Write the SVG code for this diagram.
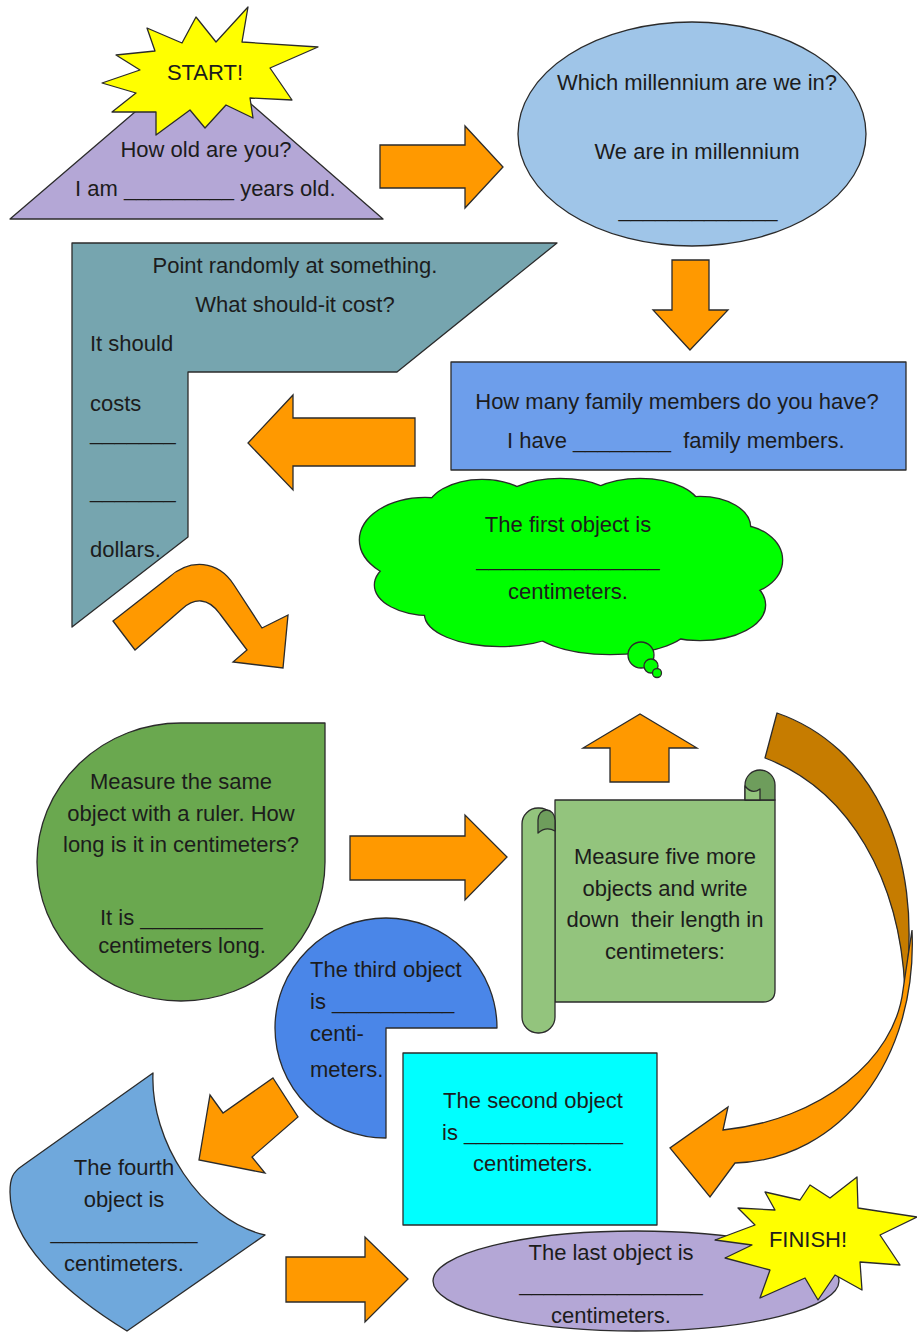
<svg xmlns="http://www.w3.org/2000/svg" width="917" height="1332" viewBox="0 0 917 1332">
<style>
text{font-family:"Liberation Sans",Arial,sans-serif;font-size:22px;fill:#1c1c1c}
.c{text-anchor:middle}
.sh{stroke:#2b2b2b;stroke-width:1.3;stroke-linejoin:round}
.arr{fill:#ff9900;stroke:#2b2b2b;stroke-width:1.3;stroke-linejoin:miter}
.cl{fill:#00ff00}
</style>
<rect width="917" height="1332" fill="#ffffff"/>

<g id="age">
<polygon class="sh" points="10,219 198,58 383,219" fill="#b4a7d6"/>
<text class="c" x="206" y="157">How old are you?</text>
<text x="75" y="196">I am _________ years old.</text>
</g>
<g id="start">
<polygon class="sh" fill="#ffff00" points="248,7 242,42 318,47 270,68 292,100 250,98 253,118 226,105 205,128 190,110 156,135 156,112 112,112 136,93 102,83 140,70 116,55 155,51 147,28 182,43 196,17 216,42"/>
<text class="c" x="205" y="80">START!</text>
</g>

<g id="millennium">
<ellipse class="sh" cx="692" cy="134" rx="174" ry="112" fill="#9fc5e8"/>
<text class="c" x="697" y="90">Which millennium are we in?</text>
<text class="c" x="697" y="159">We are in millennium</text>
<text class="c" x="698" y="217">_____________</text>
</g>

<g id="family">
<rect class="sh" x="451" y="362" width="455" height="108" fill="#6d9eeb"/>
<text class="c" x="677" y="409">How many family members do you have?</text>
<text x="507" y="448">I have ________ &#160;family members.</text>
</g>

<g id="cost">
<polygon class="sh" points="72,243 557,243 397,372 188,372 188,537 72,627" fill="#76a5af"/>
<text class="c" x="295" y="273">Point randomly at something.</text>
<text class="c" x="295" y="312">What should-it cost?</text>
<text x="90" y="351">It should</text>
<text x="90" y="411">costs</text>
<text x="90" y="440">_______</text>
<text x="90" y="498">_______</text>
<text x="90" y="557">dollars.</text>
</g>

<g id="first-object">
<g class="cl" stroke="#2b2b2b" stroke-width="2.6">
<ellipse cx="425" cy="540" rx="65" ry="42"/>
<ellipse cx="482" cy="512" rx="55" ry="32"/>
<ellipse cx="560" cy="506" rx="60" ry="27"/>
<ellipse cx="640" cy="509" rx="60" ry="30"/>
<ellipse cx="700" cy="527" rx="50" ry="30"/>
<ellipse cx="735" cy="560" rx="47" ry="35"/>
<ellipse cx="700" cy="605" rx="65" ry="35"/>
<ellipse cx="610" cy="624" rx="80" ry="30"/>
<ellipse cx="500" cy="614" rx="75" ry="32"/>
<ellipse cx="430" cy="585" rx="55" ry="30"/>
</g>
<g class="cl">
<ellipse cx="425" cy="540" rx="65" ry="42"/>
<ellipse cx="482" cy="512" rx="55" ry="32"/>
<ellipse cx="560" cy="506" rx="60" ry="27"/>
<ellipse cx="640" cy="509" rx="60" ry="30"/>
<ellipse cx="700" cy="527" rx="50" ry="30"/>
<ellipse cx="735" cy="560" rx="47" ry="35"/>
<ellipse cx="700" cy="605" rx="65" ry="35"/>
<ellipse cx="610" cy="624" rx="80" ry="30"/>
<ellipse cx="500" cy="614" rx="75" ry="32"/>
<ellipse cx="430" cy="585" rx="55" ry="30"/>
<ellipse cx="570" cy="565" rx="165" ry="55"/>
</g>
<circle class="sh cl" cx="641" cy="655" r="13"/>
<circle class="sh cl" cx="651" cy="666" r="7"/>
<circle class="sh cl" cx="657" cy="673" r="4.5"/>
<text class="c" x="568" y="532">The first object is</text>
<text class="c" x="568" y="566">_______________</text>
<text class="c" x="568" y="599">centimeters.</text>
</g>

<g id="ruler">
<path class="sh" d="M181,723 L325,723 L325,862 A144,139 0 1 1 181,723 Z" fill="#6aa84f"/>
<text class="c" x="181" y="789">Measure the same</text>
<text class="c" x="181" y="821">object with a ruler. How</text>
<text class="c" x="181" y="852">long is it in centimeters?</text>
<text x="100" y="925">It is __________</text>
<text class="c" x="182" y="953">centimeters long.</text>
</g>

<g id="five-more">
<path class="sh" d="M555,800 L775,800 L775,990 Q775,1002 763,1002 L555,1002 Z" fill="#93c47d"/>
<path class="sh" d="M745,800 L745,785 A15,15 0 0 1 775,785 L775,800 Z" fill="#6e9d5c"/>
<path class="sh" d="M745,786 L745,800 L760,800 L760,789 Q752,795 745,786 Z" fill="#93c47d"/>
<rect class="sh" x="522" y="808" width="33" height="225" rx="16" fill="#93c47d"/>
<path class="sh" d="M538,833 L538,820 A8.5,10 0 0 1 555,820 L555,831 Q546,826 538,833 Z" fill="#6e9d5c"/>
<text class="c" x="665" y="864">Measure five more</text>
<text class="c" x="665" y="896">objects and write</text>
<text class="c" x="665" y="927">down &#160;their length in</text>
<text class="c" x="665" y="959">centimeters:</text>
</g>

<g id="third-object">
<path class="sh" d="M386,1028 L497,1028 A111,110 0 1 0 386,1138 Z" fill="#4a86e8"/>
<text x="310" y="977">The third object</text>
<text x="310" y="1009">is __________</text>
<text x="310" y="1041">centi-</text>
<text x="310" y="1077">meters.</text>
</g>

<g id="second-object">
<rect class="sh" x="403" y="1053" width="254" height="172" fill="#00ffff"/>
<text class="c" x="533" y="1108">The second object</text>
<text x="442" y="1140">is _____________</text>
<text class="c" x="533" y="1171">centimeters.</text>
</g>

<g id="fourth-object">
<path class="sh" d="M153,1073 C150,1140 200,1220 265,1235 L127,1331 C60,1290 10,1240 10,1192 C10,1178 13,1172 22,1166 Z" fill="#6fa8dc"/>
<text class="c" x="124" y="1175">The fourth</text>
<text class="c" x="124" y="1207">object is</text>
<text class="c" x="124" y="1239">____________</text>
<text class="c" x="124" y="1271">centimeters.</text>
</g>

<g id="last-object">
<ellipse class="sh" cx="636" cy="1281" rx="203" ry="50" fill="#b4a7d6"/>
<text class="c" x="611" y="1260">The last object is</text>
<text class="c" x="611" y="1291">_______________</text>
<text class="c" x="611" y="1323">centimeters.</text>
</g>
<g id="finish">
<polygon class="sh" fill="#ffff00" points="857,1177 858,1208 917,1217 880,1235 900,1265 860,1262 862,1290 835,1275 818,1300 805,1278 760,1298 770,1270 725,1258 752,1245 715,1240 755,1225 738,1208 775,1210 765,1192 800,1200 810,1185 830,1198"/>
<text class="c" x="808" y="1247">FINISH!</text>
</g>

<g id="connectors">
<path class="arr" d="M380,145 L465,145 L465,126 L503,167 L465,208 L465,188 L380,188 Z"/>
<path class="arr" d="M672,260 L709,260 L709,310 L728,310 L690,350 L653,310 L672,310 Z"/>
<path class="arr" d="M415,418 L293,418 L293,395 L248,443 L293,490 L293,466 L415,466 Z"/>
<path class="arr" d="M113,621 L168,578 C190,558 218,560 234,585 L262,628 L288,615 L283,668 L233,662 L247,650 L220,614 C208,597 194,598 182,609 L135,650 Z"/>
<path class="arr" d="M350,836 L465,836 L465,815 L507,857 L465,900 L465,880 L350,880 Z"/>
<path class="arr" d="M610,782 L610,748 L583,748 L640,714 L697,748 L669,748 L669,782 Z"/>
<path class="sh" fill="#c67c00" d="M777,713 C870,745 925,850 905,990 C900,880 850,790 765,758 Z"/>
<path class="arr" d="M912,930 C918,1060 840,1160 735,1163 L710,1197 L670,1148 L728,1107 L723,1130 C820,1120 895,1060 903,990 Z"/>
<path class="arr" d="M273,1078 L298,1117 L252,1157 L265,1173 L199,1160 L210,1095 L223,1113 Z"/>
<path class="arr" d="M286,1257 L365,1257 L365,1237 L408,1279 L365,1322 L365,1302 L286,1302 Z"/>
</g>
</svg>
